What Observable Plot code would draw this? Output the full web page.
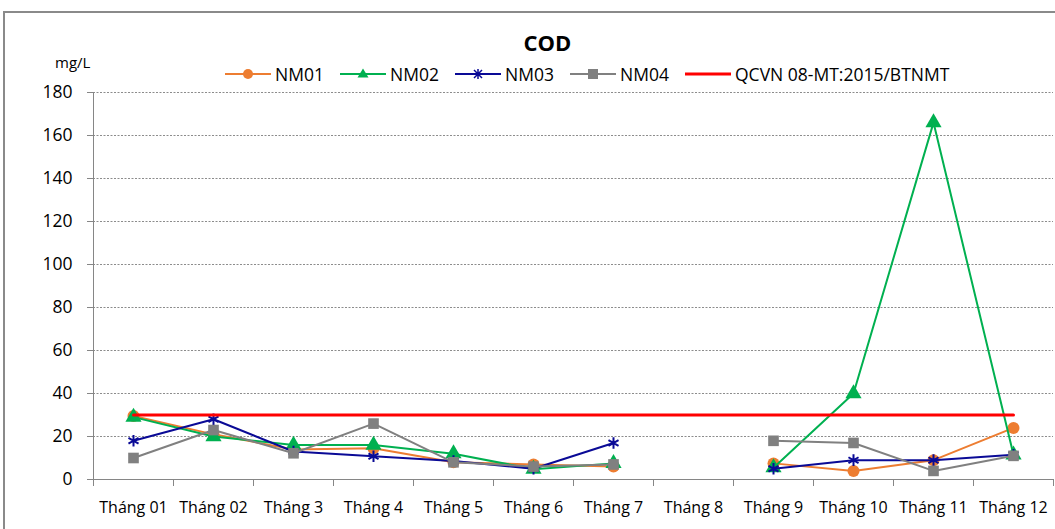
<!DOCTYPE html>
<html>
<head>
<meta charset="utf-8">
<script src="https://cdn.jsdelivr.net/npm/d3@7"></script>
<script src="https://cdn.jsdelivr.net/npm/@observablehq/plot@0.6"></script>
<style>
  html, body { margin: 0; padding: 0; background: #fff; }
  body { width: 1055px; height: 529px; overflow: hidden; position: relative; font-family: "Open Sans", "Noto Sans", sans-serif; }
  #frame { position: absolute; left: 3px; top: 11px; width: 1100px; height: 600px; border-left: 2px solid #8a8a8a; border-top: 2px solid #8a8a8a; }
  #header { position: relative; height: 85px; }
  #title { position: absolute; left: 0; width: 1095px; top: 27px; text-align: center; font-weight: bold; font-size: 22px; }
  #unit { position: absolute; left: 55px; top: 52px; font-size: 15px; }
  .leg { position: absolute; top: 63px; height: 22px; display: flex; align-items: center; font-size: 17.5px; white-space: nowrap; }
  .leg svg { margin-right: 4px; }
  #chart { position: relative; }
</style>
</head>
<body>
<div id="frame"></div>
<div id="header">
  <div id="title">COD</div>
  <div id="unit">mg/L</div>
  <div id="legend"></div>
</div>
<div id="chart"></div>
<script>
const months = ["Tháng 01","Tháng 02","Tháng 3","Tháng 4","Tháng 5","Tháng 6","Tháng 7","Tháng 8","Tháng 9","Tháng 10","Tháng 11","Tháng 12"];
const nm01 = [29.5, 21, 14, 14.5, 8, 7, 6, NaN, 7.5, 4, 9, 24];
const nm02 = [29, 20, 16, 16, 12, 4.8, 7.5, NaN, 5.5, 40, 166, 11.5];
const nm03 = [18, 28, 13, 10.8, 8.6, 5, 17, NaN, 5, 9, 9, 11.5];
const nm04 = [10, 23, 12.2, 26, 8, 6, 7, NaN, 18, 17, 4, 11];
const qcvn = [30, 30, 30, 30, 30, 30, 30, 30, 30, 30, 30, 30];
const seriesNames = ["NM01", "NM02", "NM03", "NM04", "QCVN 08-MT:2015/BTNMT"];
const yTicks = [0, 20, 40, 60, 80, 100, 120, 140, 160, 180];

const colors = ["#ED7D31", "#00B050", "#0A0A96", "#808080", "#FF0000"];
const symbols = ["circle", "triangle", "asterisk", "square", null];
const allValues = [nm01, nm02, nm03, nm04, qcvn];

const rows = [];
allValues.forEach((vals, s) => vals.forEach((v, i) => rows.push({series: seriesNames[s], idx: i, x: i + 0.5, month: months[i], value: v})));

// Legend
const legendX = [225, 340, 455, 570, 685];
const legend = document.getElementById("legend");
seriesNames.forEach((name, s) => {
  const div = document.createElement("div");
  div.className = "leg";
  div.style.left = legendX[s] + "px";
  let marker = "";
  const c = colors[s];
  if (symbols[s] === "circle") marker = `<circle cx="23" cy="11" r="5" fill="${c}"/>`;
  if (symbols[s] === "triangle") marker = `<path d="M23,5.5 L28.5,14.5 L17.5,14.5 Z" fill="${c}"/>`;
  if (symbols[s] === "asterisk") marker = `<path d="M19,7 L27,15 M27,7 L19,15 M23,6 L23,16" stroke="${c}" stroke-width="1.5"/>`;
  if (symbols[s] === "square") marker = `<rect x="18" y="6" width="10" height="10" fill="${c}"/>`;
  const sw = s === 4 ? 3 : 2;
  div.innerHTML = `<svg width="46" height="22"><line x1="0" x2="46" y1="11" y2="11" stroke="${c}" stroke-width="${sw}"/>${marker}</svg><span>${name}</span>`;
  legend.appendChild(div);
});

const marks = [
  Plot.ruleY(yTicks.slice(1), {stroke: "#8c8c8c", strokeDasharray: "2,1.5", strokeWidth: 1}),
  Plot.axisY({ticks: yTicks, tickSize: 6, tickPadding: 15, fontSize: 17.5, label: null, stroke: "#868686", fill: "#000"}),
  Plot.ruleX([0], {stroke: "#868686"}),
  Plot.ruleY([0], {stroke: "#868686"}),
  Plot.axisX({ticks: d3.range(0, 13), tickSize: 7, tickFormat: () => "", label: null, stroke: "#868686"}),
  Plot.axisX({ticks: months.map((m, i) => i + 0.5), tickSize: 0, tickPadding: 22, tickFormat: d => months[Math.floor(d)], fontSize: 16, label: null, fill: "#000"})
];

seriesNames.forEach((name, s) => {
  const data = rows.filter(r => r.series === name);
  marks.push(Plot.line(data, {x: "x", y: "value", stroke: colors[s], strokeWidth: s === 4 ? 3 : 2}));
  if (symbols[s]) {
    const pts = data.filter(r => !isNaN(r.value));
    if (symbols[s] === "asterisk") {
      marks.push(Plot.dot(pts, {x: "x", y: "value", symbol: "asterisk", stroke: colors[s], strokeWidth: 2, r: 5.5}));
    } else {
      marks.push(Plot.dot(pts, {x: "x", y: "value", symbol: symbols[s], fill: colors[s], stroke: "none", r: 6}));
    }
  }
});

const chart = Plot.plot({
  width: 1055,
  height: 444,
  marginTop: 7,
  marginBottom: 50,
  marginLeft: 93,
  marginRight: 2,
  x: {type: "linear", domain: [0, 12]},
  y: {domain: [0, 180]},
  style: {fontFamily: "'Open Sans', 'Noto Sans', sans-serif", color: "#000", background: "transparent", overflow: "visible"},
  marks
});
document.getElementById("chart").appendChild(chart);
</script>
</body>
</html>
